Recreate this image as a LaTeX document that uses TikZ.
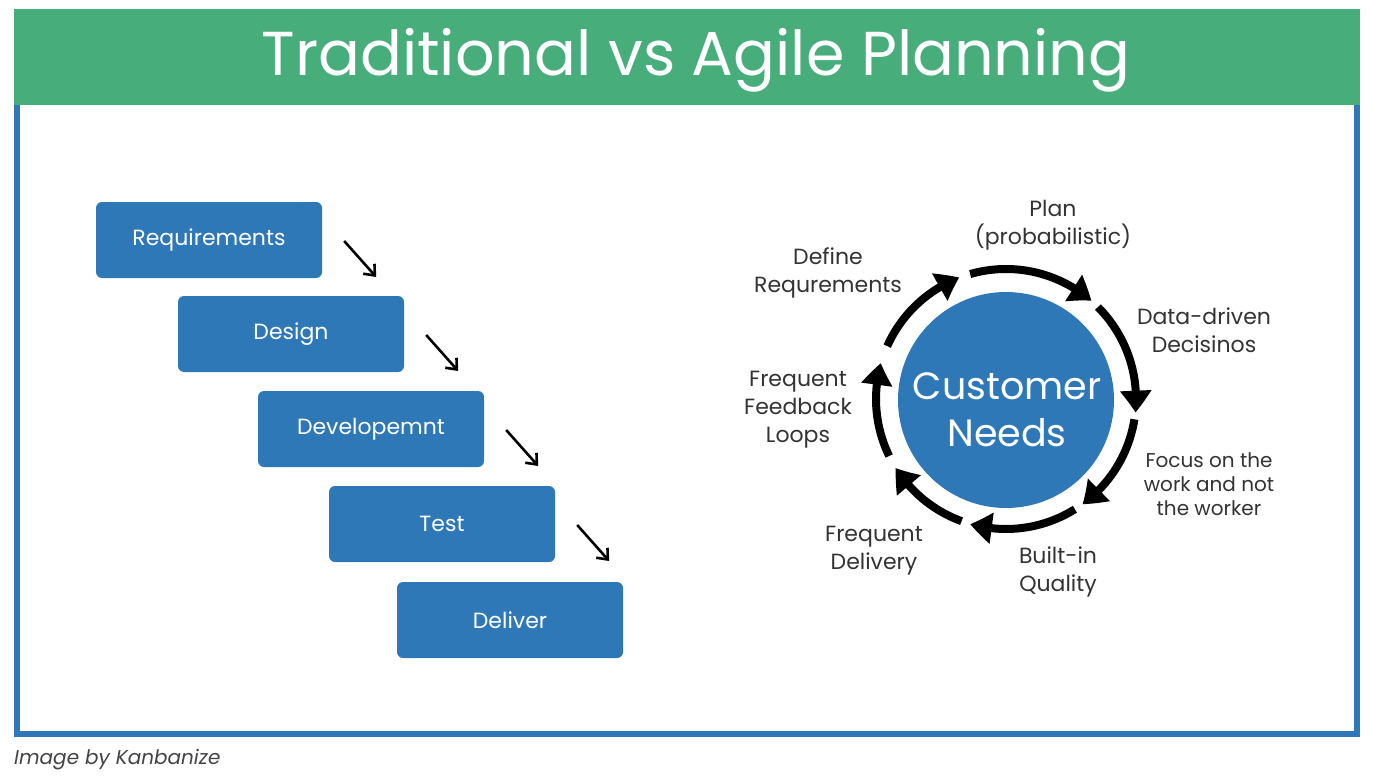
\documentclass[tikz,border=0pt]{standalone}
\usepackage{fontspec}
\setmainfont{Poppins}
\usetikzlibrary{arrows.meta,bending}
\definecolor{hdrgreen}{HTML}{46AD7B}
\definecolor{boxblue}{HTML}{2E78B7}
\definecolor{txtgray}{HTML}{333333}
\definecolor{footgray}{HTML}{444444}
\begin{document}
\begin{tikzpicture}[x=1pt,y=1pt,
  stepbox/.style={fill=boxblue, rounded corners=6pt, minimum width=226pt, minimum height=76pt, text=white, font=\fontsize{22}{26}\selectfont, inner sep=0pt},
  lbl/.style={text=txtgray, align=center, font=\fontsize{22}{28}\selectfont, inner sep=0pt},
  smalllbl/.style={text=txtgray, align=center, font=\fontsize{20}{24}\selectfont, inner sep=0pt},
  flow/.style={-{Straight Barb[length=9pt,width=15pt]}, line width=2.6pt, black},
  ring/.style={line width=8pt, black, -{Triangle[length=22pt,width=30pt,bend]}},
]
\useasboundingbox (0,0) rectangle (1374,-781);
\fill[white] (0,0) rectangle (1374,-781);
% frame
\draw[boxblue, line width=6pt] (17,-100) rectangle (1357,-734);
\fill[hdrgreen] (14,-9) rectangle (1360,-105);
\node[text=white, font=\fontsize{62}{70}\selectfont, inner sep=0pt] (title) at (696,-60) {Traditional vs Agile Planning};

% waterfall boxes
\node[stepbox] (req) at (209,-240) {Requirements};
\node[stepbox] (des) at (291,-334) {Design};
\node[stepbox] (dev) at (371,-429) {Developemnt};
\node[stepbox] (tst) at (442,-524) {Test};
\node[stepbox] (del) at (510,-620) {Deliver};

\foreach \b/\n in {req/1,des/2,dev/3,tst/4}{
  \coordinate (s\n) at ([xshift=22pt,yshift=-1pt]\b.east);
  \coordinate (e\n) at ([xshift=54pt,yshift=-37pt]\b.east);
  \draw[flow] (s\n) -- (e\n);
}

% customer needs cycle
\node[circle, fill=boxblue, minimum size=216pt, inner sep=0pt] (cn) at (1006,-400) {};
\node[text=white, align=center, font=\fontsize{38}{47}\selectfont, inner sep=0pt] (cntext) at (1007,-410) {Customer\\Needs};

\coordinate (rc) at (1006,-399);
\draw[ring] (rc) ++(106:130) arc[start angle=106, end angle=49, radius=130];
\draw[ring] (rc) ++(45:130) arc[start angle=45, end angle=-6, radius=130];
\draw[ring] (rc) ++(-9:130) arc[start angle=-9, end angle=-54, radius=130];
\draw[ring] (rc) ++(-58:130) arc[start angle=-58, end angle=-106, radius=130];
\draw[ring] (rc) ++(-110:130) arc[start angle=-110, end angle=-148, radius=130];
\draw[ring] (rc) ++(-154:130) arc[start angle=-154, end angle=-196, radius=130];
\draw[ring] (rc) ++(156:130) arc[start angle=156, end angle=111, radius=130];

% labels
\node[lbl] (plan) at (1053,-225) {Plan\\(probabilistic)};
\node[lbl] (define) at (828,-273) {Define\\Requrements};
\node[lbl] (data) at (1204,-330) {Data-driven\\Decisinos};
\node[lbl] (feedback) at (798,-410) {Frequent\\Feedback\\Loops};
\node[smalllbl] (focus) at (1209,-484) {Focus on the\\work and not\\the worker};
\node[lbl] (delivery) at (874,-551) {Frequent\\Delivery};
\node[lbl] (quality) at (1058,-572) {Built-in\\Quality};

% footer
\node[anchor=west, text=footgray, font=\itshape\fontsize{20}{22}\selectfont, inner sep=0pt] (foot) at (14,-760) {Image by Kanbanize};
\end{tikzpicture}
\end{document}
